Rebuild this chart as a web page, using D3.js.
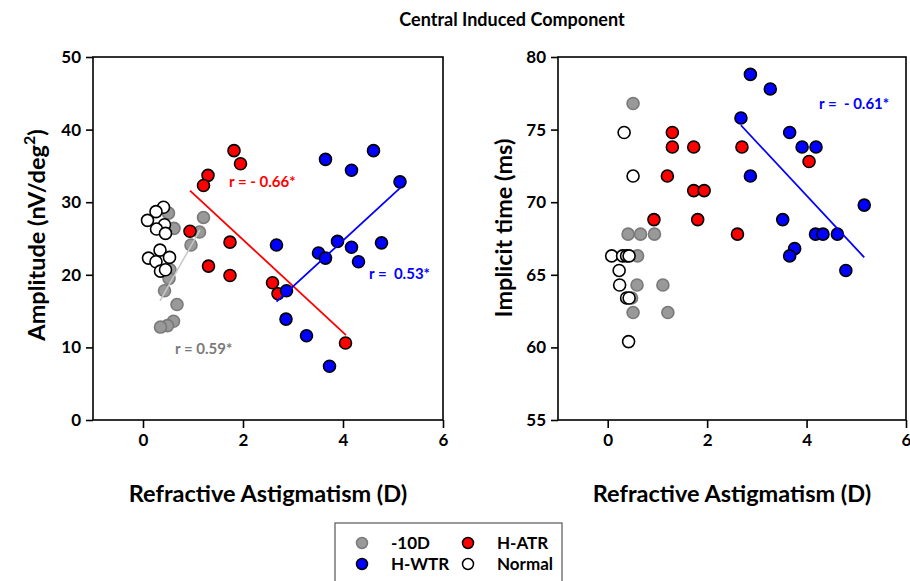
<!DOCTYPE html>
<html>
<head>
<meta charset="utf-8">
<script src="https://cdn.jsdelivr.net/npm/d3@7"></script>
<style>
  body { margin: 0; background: #fff; }
  svg text { font-family: Lato, "Open Sans", sans-serif; font-weight: bold; }
</style>
</head>
<body>
<div id="chart"></div>
<script>
// values: [astigmatism (D), value]
var ampMyopic = [[0.51,28.5],[0.62,26.4],[1.21,27.9],[1.13,25.9],[0.96,24.1],[0.54,20.7],[0.52,19.5],
  [0.43,17.8],[0.68,15.9],[0.61,13.6],[0.49,13.0],[0.35,12.8]];
var ampNormal = [[0.41,29.3],[0.26,28.7],[0.09,27.5],[0.43,26.9],[0.27,26.3],[0.45,25.7],[0.34,23.4],
  [0.11,22.3],[0.53,22.4],[0.26,21.8],[0.35,20.5],[0.45,20.7]];
var ampATR = [[1.82,37.1],[1.95,35.3],[1.30,33.7],[1.21,32.3],[0.94,26.0],[1.74,24.5],[1.31,21.2],
  [1.74,19.9],[2.59,18.9],[2.70,17.4],[4.05,10.6]];
var ampWTR = [[3.65,35.9],[4.61,37.1],[4.17,34.4],[5.14,32.8],[2.67,24.1],[3.89,24.6],[3.51,23.0],
  [3.65,22.3],[4.17,23.8],[4.77,24.4],[4.31,21.8],[2.87,17.8],[2.86,13.9],[3.27,11.6],[3.73,7.4]];

var timeMyopic = [[0.51,76.8],[0.41,67.8],[0.66,67.8],[0.94,67.8],[0.60,66.3],[0.59,64.3],[1.11,64.3],
  [0.48,63.4],[0.51,62.4],[1.21,62.4]];
var timeNormal = [[0.33,74.8],[0.51,71.8],[0.08,66.3],[0.30,66.3],[0.38,66.3],[0.43,66.3],[0.23,65.3],
  [0.24,64.3],[0.38,63.4],[0.43,63.4],[0.42,60.4]];
var timeATR = [[1.30,74.8],[1.30,73.8],[1.73,73.8],[1.20,71.8],[1.73,70.8],[1.94,70.8],[0.93,68.8],
  [1.81,68.8],[2.70,73.8],[4.05,72.8],[2.61,67.8]];
var timeWTR = [[2.87,78.8],[3.27,77.8],[2.68,75.8],[3.66,74.8],[3.91,73.8],[4.19,73.8],[2.87,71.8],
  [5.16,69.8],[3.52,68.8],[4.18,67.8],[4.33,67.8],[4.62,67.8],[3.76,66.8],[3.66,66.3],[4.79,65.3]];

// regression line end points
var ampFitMyopic = [[0.34,16.4],[1.14,26.2]];
var ampFitATR = [[0.94,31.6],[4.06,11.7]];
var ampFitWTR = [[2.67,16.3],[5.15,32.0]];
var timeFitWTR = [[2.68,75.3],[5.16,66.2]];

var xTicks = [0, 2, 4, 6];
var ampTicks = [0, 10, 20, 30, 40, 50];
var timeTicks = [55, 60, 65, 70, 75, 80];

var groups = {
  myopic: { fill: "#999999", stroke: "#7a7a7a", label: "-10D" },
  atr: { fill: "#ff0000", stroke: "#000000", label: "H-ATR" },
  wtr: { fill: "#0000ff", stroke: "#000000", label: "H-WTR" },
  normal: { fill: "#ffffff", stroke: "#000000", label: "Normal" }
};

var W = 910, H = 581;
var svg = d3.select("#chart").append("svg").attr("width", W).attr("height", H);

svg.append("text").attr("x", 512).attr("y", 26).attr("text-anchor", "middle")
  .attr("font-size", "18px").text("Central Induced Component");

function panel(opt) {
  var x = d3.scaleLinear().domain([-1, 6]).range([opt.left, opt.right]);
  var y = d3.scaleLinear().domain(opt.yDomain).range([420, 57]);
  var g = svg.append("g");

  g.append("rect").attr("x", opt.left).attr("y", 57)
    .attr("width", opt.right - opt.left).attr("height", 363)
    .attr("fill", "none").attr("stroke", "#000").attr("stroke-width", 1.6);

  var xAxis = g.append("g").attr("transform", "translate(0,420)")
    .call(d3.axisBottom(x).tickValues(xTicks).tickFormat(d3.format("d")).tickSize(8).tickPadding(6));
  var yAxis = g.append("g").attr("transform", "translate(" + opt.left + ",0)")
    .call(d3.axisLeft(y).tickValues(opt.yTicks).tickSize(7).tickPadding(5));
  [xAxis, yAxis].forEach(function (a) {
    a.select(".domain").remove();
    a.selectAll("line").attr("stroke-width", 1.6);
    a.selectAll("text").attr("font-size", "17px").attr("font-family", "Lato, sans-serif")
      .attr("font-weight", "bold").attr("fill", "#000");
  });

  g.append("text").attr("x", (opt.left + opt.right) / 2).attr("y", 502)
    .attr("text-anchor", "middle").attr("font-size", "23.5px").text("Refractive Astigmatism (D)");

  var yl = g.append("text").attr("transform", "translate(" + opt.yLabelX + "," + opt.yLabelY + ") rotate(-90)")
    .attr("text-anchor", "middle").attr("font-size", "23.5px");
  opt.yLabel(yl);

  // points
  opt.series.forEach(function (s) {
    var st = groups[s.key];
    g.selectAll(null).data(s.data).enter().append("circle")
      .attr("cx", function (d) { return x(d[0]); })
      .attr("cy", function (d) { return y(d[1]); })
      .attr("r", 6)
      .attr("fill", st.fill).attr("stroke", st.stroke).attr("stroke-width", 1.6);
  });

  // fit lines
  var line = d3.line().x(function (d) { return x(d[0]); }).y(function (d) { return y(d[1]); });
  opt.fits.forEach(function (f) {
    g.append("path").datum(f.data).attr("d", line)
      .attr("stroke", f.color).attr("stroke-width", f.width || 1.8).attr("fill", "none");
    g.append("text").attr("x", f.lx).attr("y", f.ly).attr("font-size", "15px")
      .attr("fill", f.textColor || f.color).attr("xml:space", "preserve").text(f.text);
  });
}

panel({
  left: 93, right: 443, yDomain: [0, 50], yTicks: ampTicks, yLabelX: 45, yLabelY: 235,
  yLabel: function (t) {
    t.append("tspan").text("Amplitude (nV/deg");
    t.append("tspan").attr("dy", -10).attr("font-size", "16px").text("2");
    t.append("tspan").attr("dy", 10).text(")");
  },
  series: [
    { key: "myopic", data: ampMyopic },
    { key: "normal", data: ampNormal },
    { key: "atr", data: ampATR },
    { key: "wtr", data: ampWTR }
  ],
  fits: [
    { data: ampFitMyopic, color: "#c8c8c8", textColor: "#7a7a7a", width: 1.5, text: "r = 0.59*", lx: 175, ly: 354 },
    { data: ampFitATR, color: "#ff0000", text: "r = - 0.66*", lx: 229, ly: 187 },
    { data: ampFitWTR, color: "#0000ff", text: "r =  0.53*", lx: 369, ly: 279 }
  ]
});

panel({
  left: 558, right: 906, yDomain: [55, 80], yTicks: timeTicks, yLabelX: 512, yLabelY: 228,
  yLabel: function (t) { t.text("Implicit time (ms)"); },
  series: [
    { key: "myopic", data: timeMyopic },
    { key: "normal", data: timeNormal },
    { key: "atr", data: timeATR },
    { key: "wtr", data: timeWTR }
  ],
  fits: [
    { data: timeFitWTR, color: "#0000ff", text: "r =  - 0.61*", lx: 819, ly: 109 }
  ]
});

// legend
var lg = svg.append("g");
lg.append("rect").attr("x", 335).attr("y", 523).attr("width", 227).attr("height", 62)
  .attr("fill", "#fff").attr("stroke", "#555").attr("stroke-width", 1.2);
var legendKeys = ["myopic", "atr", "wtr", "normal"];
legendKeys.forEach(function (k, i) {
  var cx = i % 2 === 0 ? 362 : 468;
  var cy = i < 2 ? 543 : 564;
  var st = groups[k];
  lg.append("circle").attr("cx", cx).attr("cy", cy).attr("r", 5.5)
    .attr("fill", st.fill).attr("stroke", st.stroke).attr("stroke-width", 1.5);
  lg.append("text").attr("x", cx + 29).attr("y", cy + 6).attr("font-size", "17px").text(st.label);
});
</script>
</body>
</html>
